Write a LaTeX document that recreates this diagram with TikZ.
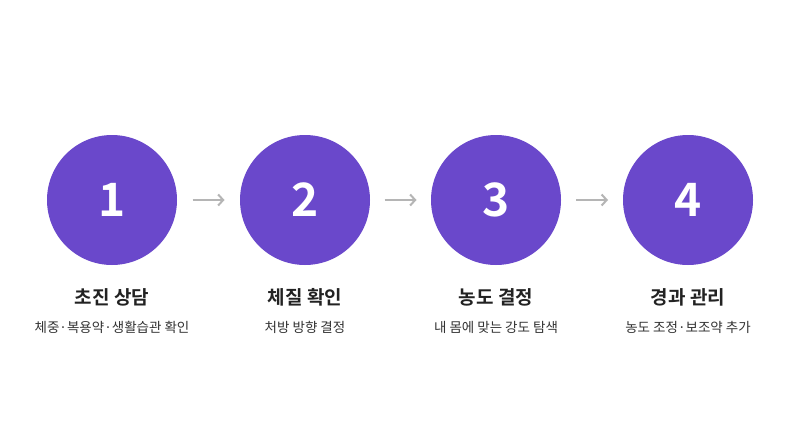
\documentclass[tikz,border=0pt]{standalone}
\usepackage{fontspec}
\setmainfont{Noto Sans CJK KR}[BoldFont={* Bold}]
\usetikzlibrary{arrows.meta}
\definecolor{purp}{HTML}{6A48CB}
\definecolor{arr}{HTML}{B5B5B5}
\definecolor{tx}{HTML}{222222}
\definecolor{sub}{HTML}{333333}
\begin{document}
\begin{tikzpicture}[x=1pt,y=-1pt,
  stepc/.style={circle,fill=purp,minimum size=130pt,inner sep=0pt,text=white,font=\fontsize{46}{46}\selectfont\bfseries},
  ttl/.style={text=tx,font=\fontsize{19}{22}\selectfont\bfseries,inner sep=0pt},
  sb/.style={text=sub,font=\fontsize{13.5}{16}\selectfont,inner sep=0pt},
  con/.style={draw=arr,line width=2pt,-{Straight Barb[length=5pt,width=11pt]}}]
\fill[white] (0,0) rectangle (800,447);
\useasboundingbox (0,0) rectangle (800,447);
\foreach \i/\x/\t/\s in {1/112/초진 상담/체중·복용약·생활습관 확인,2/305/체질 확인/처방 방향 결정,3/496/농도 결정/내 몸에 맞는 강도 탐색,4/688/경과 관리/농도 조정·보조약 추가}{
  \node[stepc] (c\i) at (\x,200) {\i};
  \node[ttl] (t\i) at (\x,297) {\t};
  \node[sb] (s\i) at (\x,327) {\s};
}
\foreach \a/\b in {1/2,2/3,3/4}{
  \path (c\a) -- (c\b) coordinate[pos=0.5] (m\a);
  \draw[con] ([xshift=-16pt]m\a) -- ([xshift=16pt]m\a);
}
\end{tikzpicture}
\end{document}
